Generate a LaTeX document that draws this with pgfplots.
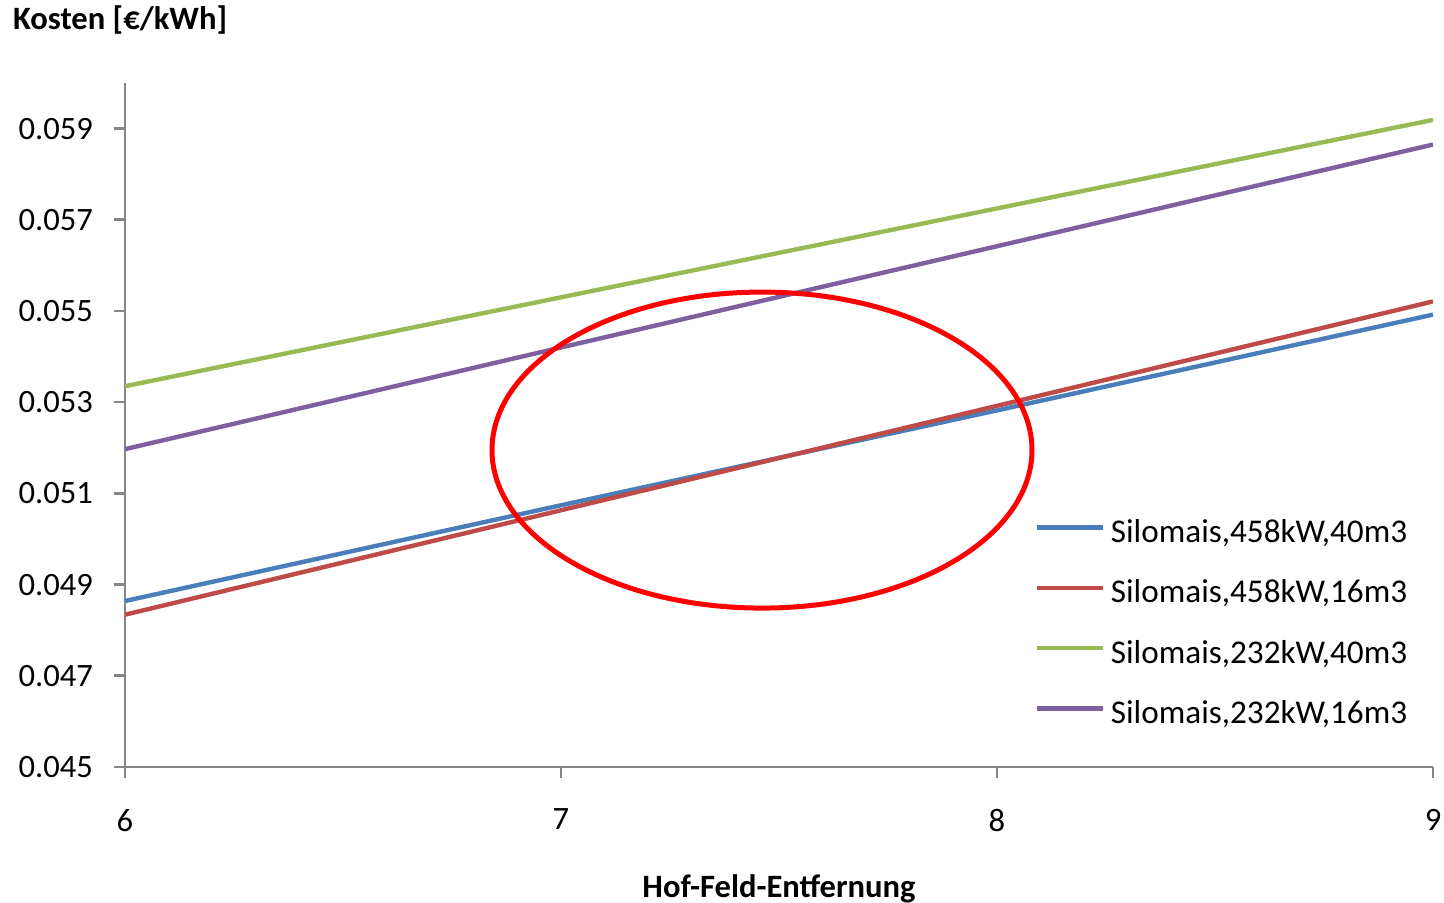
\documentclass[border=0pt]{standalone}
\usepackage{pgfplots}
\pgfplotsset{compat=1.18}
\usepackage{fontspec}
\setmainfont{Carlito}
\definecolor{cblue}{HTML}{4A7EBB}
\definecolor{cred}{HTML}{BE4B48}
\definecolor{cgreen}{HTML}{98B954}
\definecolor{cpurple}{HTML}{7D60A0}
\definecolor{axgray}{HTML}{868686}
\begin{document}
\begin{tikzpicture}[x=1pt,y=1pt]
\useasboundingbox (-62.5,-68) rectangle (659.5,383.5);
\begin{axis}[
  at={(0,0)}, anchor=south west,
  scale only axis, width=654pt, height=342pt,
  xmin=6, xmax=9, ymin=0.045, ymax=0.060,
  xtick={6,7,8,9},
  ytick={0.045,0.047,0.049,0.051,0.053,0.055,0.057,0.059},
  scaled y ticks=false,
  axis lines*=left,
  axis line style={axgray, line width=1.3pt, -},
  tick style={axgray, line width=1.3pt},
  tick align=outside, major tick length=5.5pt,
  font=\fontsize{16.3}{19}\selectfont,
  /pgf/number format/assume math mode=true,
  yticklabel style={/pgf/number format/.cd, fixed, fixed zerofill, precision=3, /tikz/.cd, xshift=-7pt},
  xticklabel style={yshift=-12pt},
  every axis y label/.style={at={(rel axis cs:-0.0910,1.092)}, anchor=west, font=\fontsize{16.3}{19}\selectfont\bfseries},
  every axis x label/.style={at={(rel axis cs:0.5,-0.1785)}, anchor=center, font=\fontsize{16.3}{19}\selectfont\bfseries},
  ylabel={Kosten [€/kWh]},
  xlabel={Hof-Feld-Entfernung},
  legend style={draw=none, fill=none, inner sep=0pt, anchor=west, at={(rel axis cs:0.695,0.2061)},
    font=\fontsize{16.6}{19}\selectfont, row sep=15.2pt,
    nodes={inner sep=0pt, text height=11pt, text depth=4pt}},
  legend cell align=left,
  legend image code/.code={\draw[#1] (0pt,4pt) -- (33pt,4pt);},
  /tikz/every even column/.append style={column sep=3pt},
  /tikz/every odd column/.append style={column sep=3pt},
  every axis plot/.append style={line width=2.2pt},
]
\addplot[cblue] coordinates {(6,0.04864) (7,0.05074) (8,0.05282) (9,0.05492)};
\addlegendentry{Silomais,458kW,40m3}
\addplot[cred] coordinates {(6,0.04834) (7,0.05063) (8,0.05292) (9,0.05521)};
\addlegendentry{Silomais,458kW,16m3}
\addplot[cgreen] coordinates {(6,0.05335) (7,0.05530) (8,0.05725) (9,0.05919)};
\addlegendentry{Silomais,232kW,40m3}
\addplot[cpurple] coordinates {(6,0.05197) (7,0.05420) (8,0.05642) (9,0.05865)};
\addlegendentry{Silomais,232kW,16m3}
\draw[red, line width=2.5pt] (axis cs:7.461,0.05195) ellipse [x radius=135pt, y radius=79pt];
\end{axis}
\end{tikzpicture}
\end{document}
